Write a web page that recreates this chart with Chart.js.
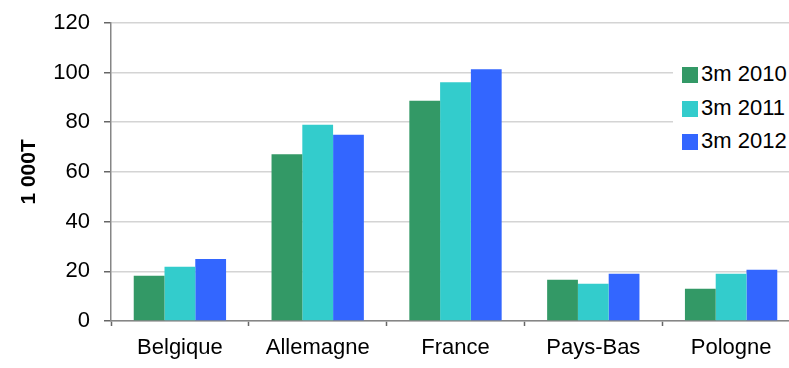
<!DOCTYPE html>
<html>
<head>
<meta charset="utf-8">
<script src="https://cdn.jsdelivr.net/npm/chart.js@4/dist/chart.umd.min.js"></script>
<style>
  html, body { margin: 0; padding: 0; background: #fff; overflow: hidden; }
  #wrap { position: relative; width: 810px; height: 368px; }
  #legend {
    position: absolute; left: 673px; top: 58px; width: 140px; height: 100px;
    background: #fff; font-family: "Liberation Sans", Arial, sans-serif; font-size: 22px; color: #000;
  }
  #legend div { position: absolute; left: 9px; height: 24px; line-height: 24px; white-space: nowrap; }
  #legend span { display: inline-block; width: 16px; height: 16px; vertical-align: -2px; margin-right: 3px; }
</style>
</head>
<body>
<div id="wrap">
  <canvas id="chart" width="810" height="368"></canvas>
  <div id="legend"></div>
</div>
<script>
// categories and series (1 000 T)
const countries = ['Belgique', 'Allemagne', 'France', 'Pays-Bas', 'Pologne'];
const seriesNames = ['3m 2010', '3m 2011', '3m 2012'];
const m2010 = [18.2, 67.1, 88.6, 16.6, 13.0];
const m2011 = [21.8, 79.0, 96.1, 15.0, 19.0];
const m2012 = [24.9, 75.0, 101.3, 19.0, 20.6];
const yTicks = [0, 20, 40, 60, 80, 100, 120];

const colors = ['#339966', '#33CCCC', '#3366FF'];
const font = 'Liberation Sans, Arial, sans-serif';

const ctx = document.getElementById('chart').getContext('2d');
const chart = new Chart(ctx, {
  type: 'bar',
  data: {
    labels: countries,
    datasets: [m2010, m2011, m2012].map((d, i) => ({
      label: seriesNames[i],
      data: d,
      backgroundColor: colors[i],
      borderWidth: 0,
      categoryPercentage: 0.67,
      barPercentage: 1.0,
    })),
  },
  options: {
    responsive: false,
    animation: false,
    layout: { padding: { top: 18, right: 10, left: 0, bottom: 0 } },
    plugins: { legend: { display: false }, tooltip: { enabled: false } },
    scales: {
      x: {
        grid: { display: true, drawOnChartArea: false, offset: true, tickLength: 5, tickColor: '#666', tickWidth: 1.5 },
        border: { color: '#868686', width: 1.5 },
        ticks: { color: '#000', font: { family: font, size: 22 }, padding: 9 },
        afterFit: s => { s.height = 47; },
      },
      y: {
        min: 0, max: 120,
        afterBuildTicks: s => { s.ticks = yTicks.map(v => ({ value: v })); },
        grid: { color: '#d4d4d4', lineWidth: 1.5, tickLength: 7, tickColor: '#666', tickWidth: 1.5 },
        border: { color: '#868686', width: 1.5 },
        ticks: { color: '#000', font: { family: font, size: 22, lineHeight: 0.8 }, padding: 14 },
        title: { display: true, text: '1 000T', color: '#000', font: { family: font, size: 21, weight: 'bold' }, padding: { top: 17, bottom: 0 } },
        afterFit: s => { s.width = 111; },
      },
    },
  },
});

// legend overlay built from the datasets
const lg = document.getElementById('legend');
chart.data.datasets.forEach((ds, i) => {
  const row = document.createElement('div');
  row.style.top = (4 + i * 33.5) + 'px';
  row.innerHTML = '<span style="background:' + ds.backgroundColor + '"></span>' + ds.label;
  lg.appendChild(row);
});
</script>
</body>
</html>
